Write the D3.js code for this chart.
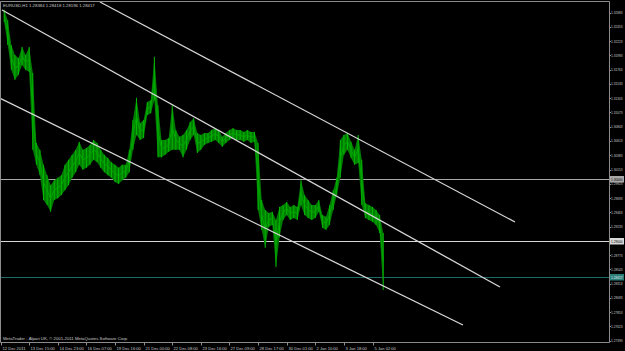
<!DOCTYPE html>
<html><head><meta charset="utf-8">
<script src="https://cdn.jsdelivr.net/npm/d3@7"></script>
<style>html,body{margin:0;padding:0;background:#000;}svg{display:block;}</style>
</head><body>
<script>
// ---- data ----
const barIndex = [4,8,12,16,20,24,28,32,36,40,44,48,52,56,60,64,68,72,76,80,84,88,92,96,100,104,108,112,116,120,124,128,132,136,140,144,148,152,156,160,164,168,172,176,180,184,188,192,196,200,204,208,212,216,220,224,228,232,236,240,244,248,252,256,260,264,268,272,276,280,284,288,292,296,300,304,308,312,316,320,324,328,332,336,340,344,348,352,356,360,364,368,372,376,380,384,388,392,396,400,404,408,412,416,420,424,428];
const highs = [1.3273,1.3256,1.3216,1.3200,1.3195,1.3213,1.3200,1.3213,1.3171,1.3058,1.3047,1.3023,1.3006,1.2990,1.2998,1.3002,1.3006,1.3023,1.3031,1.3039,1.3047,1.3060,1.3047,1.3050,1.3055,1.3063,1.3058,1.3047,1.3039,1.3034,1.3027,1.3023,1.3018,1.3023,1.3023,1.3047,1.3095,1.3131,1.3090,1.3095,1.3124,1.3127,1.3197,1.3119,1.3063,1.3063,1.3066,1.3119,1.3079,1.3068,1.3071,1.3079,1.3092,1.3098,1.3074,1.3071,1.3074,1.3074,1.3079,1.3082,1.3079,1.3068,1.3074,1.3079,1.3082,1.3079,1.3079,1.3076,1.3079,1.3076,1.3076,1.3058,1.2966,1.2950,1.2945,1.2947,1.2934,1.2955,1.2958,1.2963,1.2955,1.2958,1.2955,1.2998,1.2974,1.2966,1.2958,1.2958,1.2966,1.2942,1.2939,1.2958,1.2982,1.3002,1.3063,1.3071,1.3074,1.3060,1.3047,1.3071,1.3031,1.2961,1.2958,1.2955,1.2950,1.2942,1.2913];
const lows = [1.3253,1.3216,1.3176,1.3160,1.3168,1.3184,1.3176,1.3173,1.3047,1.3023,1.3006,1.2966,1.2958,1.2947,1.2966,1.2969,1.2974,1.2982,1.2990,1.3002,1.3011,1.3023,1.3015,1.3018,1.3023,1.3031,1.3027,1.3018,1.3011,1.3006,1.3002,1.2995,1.2992,1.2998,1.3002,1.3011,1.3047,1.3071,1.3063,1.3066,1.3103,1.3106,1.3127,1.3035,1.3035,1.3039,1.3044,1.3047,1.3047,1.3047,1.3035,1.3047,1.3063,1.3071,1.3042,1.3047,1.3055,1.3058,1.3060,1.3063,1.3058,1.3052,1.3058,1.3063,1.3066,1.3063,1.3063,1.3060,1.3063,1.3058,1.3060,1.2950,1.2918,1.2889,1.2923,1.2926,1.2858,1.2906,1.2934,1.2942,1.2934,1.2937,1.2934,1.2958,1.2942,1.2937,1.2934,1.2937,1.2947,1.2921,1.2918,1.2926,1.2950,1.2974,1.3002,1.3039,1.3047,1.3034,1.3023,1.3026,1.2958,1.2937,1.2934,1.2931,1.2926,1.2913,1.2821];

const timeLabels = ["12 Dec 2011","13 Dec 15:00","14 Dec 23:00","16 Dec 07:00","19 Dec 16:00","21 Dec 00:00","22 Dec 08:00","23 Dec 16:00","27 Dec 09:00","28 Dec 17:00","30 Dec 01:00","2 Jan 10:00","3 Jan 18:00","5 Jan 02:00"];
const timeLabelBars = [0,32,64,96,128,160,192,224,256,288,320,352,384,416];
const priceLabels = [1.32683,1.32453,1.32223,1.31993,1.31763,1.31533,1.31303,1.31073,1.30843,1.30613,1.30383,1.30153,1.29923,1.29693,1.29463,1.29233,1.28773,1.28543,1.28313,1.28083,1.27853,1.27623,1.27393];
const levelPrices = [1.30000, 1.29000];
const bidPrice = 1.28417;
// channel lines: [startBar, startPrice, endBar, endPrice]
const chanStartBar = [111.2, 1.6, -1];
const chanStartPrice = [1.32855, 1.32726, 1.31306];
const chanEndBar = [575.4, 558.6, 517.2];
const chanEndPrice = [1.29306, 1.28258, 1.27645];
const titleText = "EURUSD,H1  1.28384 1.28418 1.28196 1.28417";
const footerText = "MetaTrader - Alpari UK, \u00A9 2001-2011 MetaQuotes Software Corp.";

// ---- drawing ----
const W = 625, H = 351;
const plotL = 0.5, plotR = 609.5, plotT = 1.5, plotB = 342.5;
const x = d3.scaleLinear().domain([0, 416]).range([0.6, 372.5]);
const y = d3.scaleLinear().domain([1.29, 1.30]).range([241, 179]);

const svg = d3.select("body").append("svg").attr("width", W).attr("height", H)
  .style("font-family", "'Liberation Sans', Arial, sans-serif");
svg.append("rect").attr("width", W).attr("height", H).attr("fill", "#000000");

svg.append("defs").append("clipPath").attr("id", "plot")
  .append("rect").attr("x", plotL).attr("y", plotT).attr("width", plotR - plotL).attr("height", plotB - plotT);
const g = svg.append("g").attr("clip-path", "url(#plot)");

// horizontal levels
g.selectAll("line.level").data(levelPrices).join("line")
  .attr("x1", plotL).attr("x2", plotR)
  .attr("y1", d => Math.round(y(d)) + 0.5).attr("y2", d => Math.round(y(d)) + 0.5)
  .attr("stroke", (d, i) => i === 0 ? "#a8a8a8" : "#d8d8d8").attr("stroke-width", 1);
g.append("line").attr("x1", plotL).attr("x2", plotR)
  .attr("y1", Math.round(y(bidPrice)) + 0.5).attr("y2", Math.round(y(bidPrice)) + 0.5)
  .attr("stroke", "#1d6b66").attr("stroke-width", 1);

// price bars
const bars = barIndex.map((b, i) => ({b, h: highs[i], l: lows[i]}));
g.append("path").datum(bars)
  .attr("d", d3.area().x(d => x(d.b)).y0(d => y(d.l)).y1(d => y(d.h)))
  .attr("fill", "#007c00");
g.selectAll("line.bar").data(bars).join("line")
  .attr("x1", d => x(d.b)).attr("x2", d => x(d.b))
  .attr("y1", d => y(d.h)).attr("y2", d => y(d.l))
  .attr("stroke", "#00b800").attr("stroke-width", 1);
g.append("path").datum(bars)
  .attr("d", d3.line().x(d => x(d.b)).y(d => y((d.h + d.l) / 2)))
  .attr("fill", "none").attr("stroke", "#00a800").attr("stroke-width", 1);

// channel lines
g.selectAll("line.chan").data(chanStartBar).join("line")
  .attr("x1", (d, i) => x(chanStartBar[i])).attr("y1", (d, i) => y(chanStartPrice[i]))
  .attr("x2", (d, i) => x(chanEndBar[i])).attr("y2", (d, i) => y(chanEndPrice[i]))
  .attr("stroke", "#d6d6d6").attr("stroke-width", 1.3);

// frame
svg.append("path")
  .attr("d", `M${plotL},${plotB}V${plotT}H${plotR}V${plotB}Z`)
  .attr("fill", "none").attr("stroke", "#8c8c8c").attr("stroke-width", 1);

// title & footer
svg.append("text").attr("x", 3).attr("y", 6.5).attr("fill", "#c8c8c8").attr("font-size", 4.3).text(titleText);
svg.append("text").attr("x", 3).attr("y", 340).attr("fill", "#c8c8c8").attr("font-size", 4.3).text(footerText);

// right price axis
const ra = svg.append("g");
function priceText(yy, s, fill) {
  ra.append("text").attr("x", 611).attr("y", yy).attr("fill", fill).attr("font-size", 4.1)
    .attr("textLength", 11.5).attr("lengthAdjust", "spacingAndGlyphs").text(s);
}
priceLabels.forEach(p => {
  const yy = y(p);
  ra.append("line").attr("x1", plotR).attr("x2", plotR + 1.5).attr("y1", Math.round(yy) + 0.5).attr("y2", Math.round(yy) + 0.5)
    .attr("stroke", "#8c8c8c");
  priceText(yy + 1.5, p.toFixed(5), "#c8c8c8");
});
const hl = [{p: levelPrices[0], c: "#a8a8a8", t: "#000"}, {p: levelPrices[1], c: "#d8d8d8", t: "#000"}, {p: bidPrice, c: "#2a7f79", t: "#e8e8e8"}];
hl.forEach(o => {
  const yy = Math.round(y(o.p));
  ra.append("rect").attr("x", plotR + 0.5).attr("y", yy - 3).attr("width", 14).attr("height", 6.5).attr("fill", o.c);
  priceText(yy + 1.8, o.p.toFixed(5), o.t);
});

// bottom time axis
const ba = svg.append("g");
timeLabelBars.forEach((b, i) => {
  const xx = Math.round(x(b)) + 0.5;
  ba.append("line").attr("x1", xx).attr("x2", xx).attr("y1", plotB).attr("y2", plotB + 3).attr("stroke", "#8c8c8c");
  ba.append("text").attr("x", xx + 1).attr("y", 349.5).attr("fill", "#c8c8c8").attr("font-size", 4.1).text(timeLabels[i]);
});
</script>
</body></html>
